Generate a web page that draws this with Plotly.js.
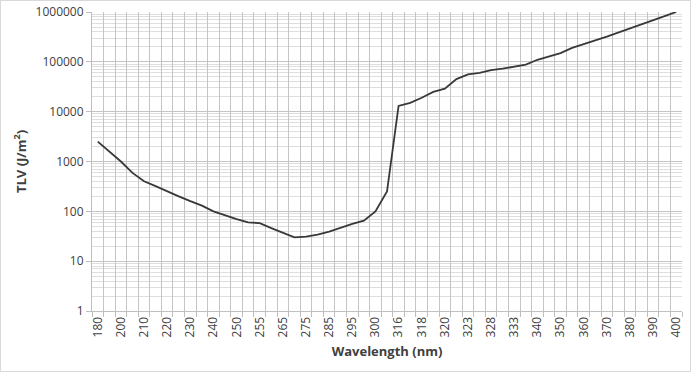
<!DOCTYPE html>
<html>
<head>
<meta charset="utf-8">
<script src="https://cdn.plot.ly/plotly-3.0.1.min.js"></script>
<style>
  html, body { margin: 0; padding: 0; background: #ffffff; }
  #wrap { position: relative; width: 691px; height: 372px; }
  #chart { width: 691px; height: 372px; }
  #frame { position: absolute; left: 0; top: 0; width: 691px; height: 372px; box-sizing: border-box; border: 1px solid #d9d9d9; pointer-events: none; }
</style>
</head>
<body>
<div id="wrap"><div id="chart"></div><div id="frame"></div></div>
<script>
// Wavelength categories (nm)
const wavelengths = ['180','190','200','205','210','215','220','225','230','235','240','245','250','254','255','260','265','270','275','280','285','290','295','297','300','303','316','317','318','319','320','322','323','325','328','330','333','335','340','345','350','355','360','365','370','375','380','385','390','395','400'];
// TLV values (J/m^2)
const tlv = [2500,1600,1000,590,400,320,250,200,160,130,100,83,70,60,58,46,37,30,31,34,39,47,56,65,100,250,13000,15000,19000,25000,29000,45000,56000,60000,68000,73000,81000,88000,110000,130000,150000,190000,230000,270000,320000,390000,470000,570000,690000,830000,1000000];
// Labels shown on the x axis (every other category)
const shownLabels = wavelengths.map((w, i) => (i % 2 === 0 ? w : ' '));
const yTickVals = [1, 10, 100, 1000, 10000, 100000, 1000000];
const yTickText = ['1', '10', '100', '1000', '10000', '100000', '1000000'];

const font = 'Open Sans, Lato, sans-serif';

const trace = {
  x: wavelengths,
  y: tlv,
  type: 'scatter',
  mode: 'lines',
  line: { color: '#383838', width: 1.8 },
  hoverinfo: 'x+y'
};

const layout = {
  width: 691,
  height: 372,
  margin: { l: 92, r: 9, t: 12, b: 61 },
  paper_bgcolor: '#ffffff',
  plot_bgcolor: '#ffffff',
  showlegend: false,
  font: { family: font, size: 12, color: '#404040' },
  xaxis: {
    type: 'category',
    range: [-0.5, wavelengths.length - 0.5],
    tickmode: 'array',
    tickvals: wavelengths,
    ticktext: shownLabels,
    tickson: 'boundaries',
    tickangle: -90,
    ticks: 'outside',
    ticklen: 5,
    tickcolor: '#bfbfbf',
    showgrid: true,
    gridcolor: '#c4c4c4',
    gridwidth: 1,
    showline: true,
    linecolor: '#bfbfbf',
    linewidth: 1,
    zeroline: false,
    tickfont: { family: font, size: 12, color: '#404040' },
    title: { text: 'Wavelength (nm)', font: { family: font, size: 13, color: '#404040', weight: 'bold' }, standoff: 10 }
  },
  yaxis: {
    type: 'log',
    range: [0, 6],
    tickmode: 'array',
    tickvals: yTickVals,
    ticktext: yTickText,
    ticks: 'outside',
    ticklen: 5,
    tickcolor: '#bfbfbf',
    showgrid: true,
    gridcolor: '#c4c4c4',
    gridwidth: 1,
    showline: true,
    linecolor: '#bfbfbf',
    zeroline: false,
    minor: { dtick: 'D1', showgrid: true, gridcolor: '#dedede', gridwidth: 1, ticks: '' },
    tickfont: { family: font, size: 12, color: '#404040' },
    title: { text: 'TLV (J/m<sup>2</sup>)', font: { family: font, size: 13, color: '#404040', weight: 'bold' }, standoff: 6 }
  }
};

Plotly.newPlot('chart', [trace], layout, { displayModeBar: false, staticPlot: true });
</script>
</body>
</html>
